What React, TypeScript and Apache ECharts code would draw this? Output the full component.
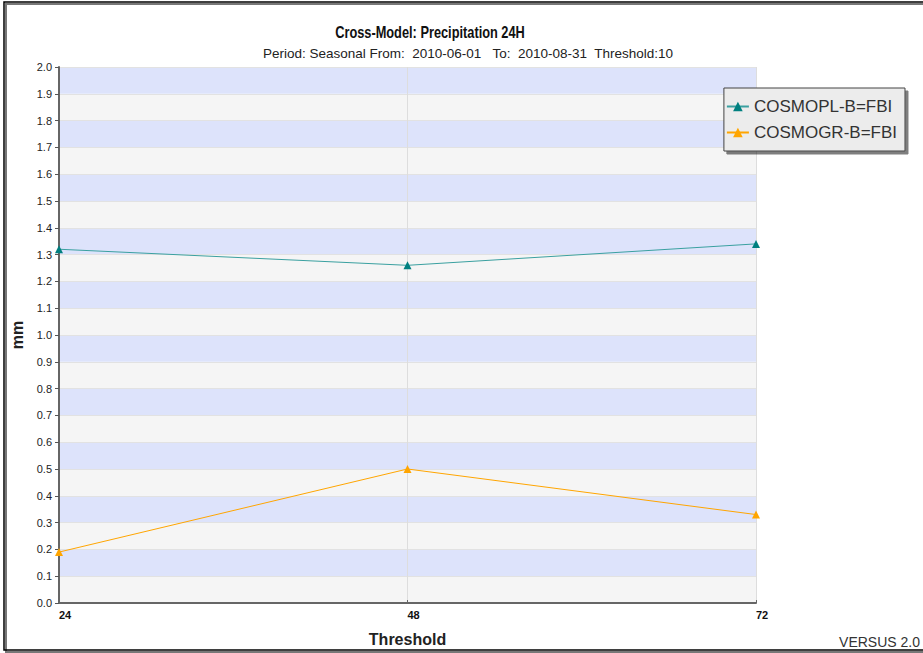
import React, { useEffect, useRef } from "react";
import * as echarts from "echarts";

const thresholds = [24, 48, 72];
const cosmoPL = [1.32, 1.26, 1.34];
const cosmoGR = [0.19, 0.5, 0.33];
const seriesNames = ["COSMOPL-B=FBI", "COSMOGR-B=FBI"];
const yTicks = { min: 0, max: 2, interval: 0.1 };
const titleText = "Cross-Model: Precipitation 24H";
const subtitleText = "Period: Seasonal From:  2010-06-01   To:  2010-08-31  Threshold:10";

const FONT = "'Liberation Sans', Arial, sans-serif";

export default function App() {
  const ref = useRef<HTMLDivElement>(null);
  useEffect(() => {
    document.body.style.margin = "0";
    const chart = echarts.init(ref.current!, null, { renderer: "svg" });
    chart.setOption({
      animation: false,
      backgroundColor: "#ffffff",
      textStyle: { fontFamily: FONT },
      legend: {
        right: 18,
        top: 88,
        orient: "vertical",
        backgroundColor: "#ececec",
        borderColor: "#444",
        borderWidth: 1,
        padding: [10, 8, 10, 2],
        itemGap: 9,
        itemWidth: 22,
        itemHeight: 12,
        shadowColor: "rgba(0,0,0,0.5)",
        shadowOffsetX: 3,
        shadowOffsetY: 3,
        shadowBlur: 0,
        textStyle: { fontSize: 17, color: "#333", fontFamily: FONT },
        data: seriesNames,
      },
      grid: { left: 59, right: 167, top: 67, bottom: 50 },
      xAxis: {
        type: "value",
        min: 24,
        max: 72,
        interval: 24,
        name: "Threshold",
        nameLocation: "middle",
        nameGap: 28,
        nameTextStyle: { fontSize: 16, fontWeight: "bold", color: "#222", fontFamily: FONT },
        axisLine: { show: true, lineStyle: { color: "#666", width: 2 } },
        axisTick: { show: true, length: 3, inside: true, lineStyle: { color: "#666" } },
        axisLabel: {
          align: "left",
          fontSize: 11,
          fontWeight: "bold",
          color: "#111",
          margin: 6,
          formatter: (v: number) => (thresholds.includes(v) ? String(v) : ""),
        },
        splitLine: { show: true, lineStyle: { color: "#dddddd", width: 1 } },
      },
      yAxis: {
        type: "value",
        min: yTicks.min,
        max: yTicks.max,
        interval: yTicks.interval,
        name: "mm",
        nameLocation: "middle",
        nameGap: 26,
        nameRotate: 90,
        nameTextStyle: { fontSize: 16, fontWeight: "bold", color: "#222", fontFamily: FONT },
        axisLine: { show: true, lineStyle: { color: "#666", width: 2 } },
        axisTick: { show: true, length: 4, lineStyle: { color: "#555" } },
        axisLabel: {
          fontSize: 11,
          color: "#222",
          margin: 7,
          formatter: (v: number) => v.toFixed(1),
        },
        splitLine: { show: true, lineStyle: { color: "#e2e2e2", width: 1 } },
        splitArea: { show: true, areaStyle: { color: ["#f5f5f5", "#dde3fb"] } },
      },
      graphic: [
        {
          type: "rect",
          shape: { x: 6, y: 4, width: 940, height: 648 },
          style: { fill: "none", stroke: "#777", lineWidth: 2 },
          silent: true,
          z: 0,
        },
        {
          type: "rect",
          shape: { x: 4, y: 2, width: 940, height: 648 },
          style: { fill: "none", stroke: "#000", lineWidth: 1.5 },
          silent: true,
          z: 1,
        },
        {
          type: "text",
          x: 430,
          y: 24,
          scaleX: 0.8,
          style: {
            text: titleText,
            fontSize: 16,
            fontWeight: "bold",
            fill: "#111",
            fontFamily: FONT,
            align: "center",
            verticalAlign: "top",
          },
        },
        {
          type: "text",
          x: 468,
          y: 46,
          style: {
            text: subtitleText,
            fontSize: 13.5,
            fill: "#222",
            fontFamily: FONT,
            align: "center",
            verticalAlign: "top",
          },
        },
        {
          type: "text",
          right: 3,
          top: 635,
          style: { text: "VERSUS 2.0", fontSize: 14, fill: "#333", fontFamily: FONT },
        },
      ],
      series: [
        {
          name: seriesNames[0],
          type: "line",
          data: thresholds.map((t, i) => [t, cosmoPL[i]]),
          symbol: "triangle",
          symbolSize: 8,
          itemStyle: { color: "#008080" },
          lineStyle: { color: "#3aa0a0", width: 1 },
          clip: false,
        },
        {
          name: seriesNames[1],
          type: "line",
          data: thresholds.map((t, i) => [t, cosmoGR[i]]),
          symbol: "triangle",
          symbolSize: 8,
          itemStyle: { color: "#ffa500" },
          lineStyle: { color: "#ffa500", width: 1 },
          clip: false,
        },
      ],
    });
    return () => chart.dispose();
  }, []);
  return <div ref={ref} style={{ position: "fixed", left: 0, top: 0, width: 923, height: 653 }} />;
}
